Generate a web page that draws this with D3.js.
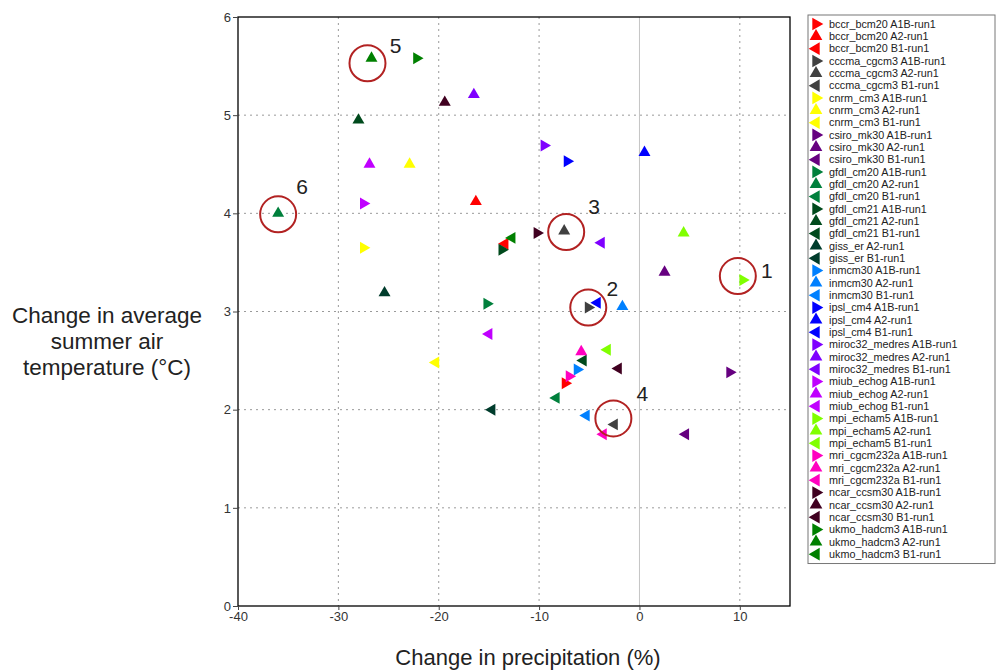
<!DOCTYPE html>
<html>
<head>
<meta charset="utf-8">
<script src="https://cdn.jsdelivr.net/npm/d3@7"></script>
<style>
  body { margin: 0; background: #fff; }
  svg { font-family: "Liberation Sans", Arial, sans-serif; }
</style>
</head>
<body>
<div id="chart"></div>
<script>
// models, in legend order, and their colours
var models = ["bccr_bcm20", "cccma_cgcm3", "cnrm_cm3", "csiro_mk30", "gfdl_cm20", "gfdl_cm21",
  "giss_er", "inmcm30", "ipsl_cm4", "miroc32_medres", "miub_echog", "mpi_echam5",
  "mri_cgcm232a", "ncar_ccsm30", "ukmo_hadcm3"];
var modelColors = ["#ff0000", "#404040", "#ffff00", "#660080", "#00803c", "#004a1c",
  "#003c2c", "#0080ff", "#0000ff", "#7f00ff", "#c000ff", "#80ff00",
  "#ff00c0", "#400020", "#008000"];
var scenarios = ["A1B", "A2", "B1"];

// change in precipitation (%) per model, one array per scenario (null = no run)
var precipA1B = [-7.4, -5.1, -27.5, 9.0, -15.2, -13.7, null, -6.2, -7.2, -9.5, -27.5, 10.3, -7.0, -10.2, -22.2];
var precipA2  = [-16.3, -7.5, -22.9, 2.5, -36.0, -28.0, -25.4, -1.7, 0.5, -16.5, -26.9, 4.4, -5.8, -19.4, -26.7];
var precipB1  = [-13.4, -2.5, -20.3, 4.6, -8.3, -5.6, -14.7, -5.3, -4.2, -3.8, -15.0, -3.2, -3.6, -2.1, -12.7];
// change in summer air temperature (°C)
var tempA1B = [2.27, 3.04, 3.65, 2.38, 3.08, 3.63, null, 2.41, 4.53, 4.69, 4.10, 3.32, 2.34, 3.80, 5.58];
var tempA2  = [4.12, 3.82, 4.50, 3.40, 4.00, 4.95, 3.19, 3.05, 4.62, 5.21, 4.50, 3.80, 2.59, 5.13, 5.58];
var tempB1  = [3.69, 1.85, 2.48, 1.75, 2.12, 2.50, 2.00, 1.94, 3.09, 3.70, 2.77, 2.61, 1.75, 2.42, 3.75];

// circled runs: label, model, scenario
var callouts = [
  ["1", "mpi_echam5", "A1B"],
  ["2", "cccma_cgcm3", "A1B"],
  ["3", "cccma_cgcm3", "A2"],
  ["4", "cccma_cgcm3", "B1"],
  ["5", "ukmo_hadcm3", "A2"],
  ["6", "gfdl_cm20", "A2"]
];
var xTicks = [-40, -30, -20, -10, 0, 10];
var yTicks = [0, 1, 2, 3, 4, 5, 6];

var precip = { A1B: precipA1B, A2: precipA2, B1: precipB1 };
var temp = { A1B: tempA1B, A2: tempA2, B1: tempB1 };

var points = [];
models.forEach(function(m, i) {
  scenarios.forEach(function(s) {
    if (precip[s][i] == null) return;
    points.push({ model: m, scen: s, x: precip[s][i], y: temp[s][i], color: modelColors[i] });
  });
});

var W = 1000, H = 671;
var svg = d3.select("#chart").append("svg").attr("width", W).attr("height", H);

var x = d3.scaleLinear().domain([-40, 15]).range([238, 790]);
var y = d3.scaleLinear().domain([0, 6]).range([606, 17]);

// grid
svg.append("g").selectAll("line")
    .data(xTicks.filter(function(d) { return d !== -40 && d !== 0; })).enter()
  .append("line")
    .attr("x1", x).attr("x2", x).attr("y1", y(6)).attr("y2", y(0))
    .attr("stroke", "#9a9a9a").attr("stroke-dasharray", "2,4");
svg.append("g").selectAll("line")
    .data(yTicks.filter(function(d) { return d > 0 && d < 6; })).enter()
  .append("line")
    .attr("x1", x(-40)).attr("x2", x(15)).attr("y1", y).attr("y2", y)
    .attr("stroke", "#9a9a9a").attr("stroke-dasharray", "2,4");
svg.append("line")
    .attr("x1", x(0)).attr("x2", x(0)).attr("y1", y(6)).attr("y2", y(0))
    .attr("stroke", "#c4c4c4").attr("stroke-width", 1);

// frame
svg.append("rect")
    .attr("x", x(-40)).attr("y", y(6))
    .attr("width", x(15) - x(-40)).attr("height", y(0) - y(6))
    .attr("fill", "none").attr("stroke", "#000").attr("stroke-width", 1.3);

// axes (plain hyphen minus, integer labels)
var fmt = function(d) { return String(d); };
var xAxis = svg.append("g").attr("transform", "translate(0," + y(0) + ")")
    .call(d3.axisBottom(x).tickValues(xTicks).tickFormat(fmt).tickSize(4).tickPadding(2));
var yAxis = svg.append("g").attr("transform", "translate(" + x(-40) + ",0)")
    .call(d3.axisLeft(y).tickValues(yTicks).tickFormat(fmt).tickSize(5).tickPadding(2));
[xAxis, yAxis].forEach(function(a) {
  a.select(".domain").remove();
  a.selectAll("text").attr("font-size", 13).attr("fill", "#333")
    .attr("font-family", "'Liberation Sans', Arial, sans-serif");
  a.selectAll(".tick line").attr("stroke", "#444");
});

// markers
var tri = d3.symbol().type(d3.symbolTriangle).size(62);
var rot = { A1B: 90, A2: 0, B1: -90 };
svg.append("g").selectAll("path")
    .data(points).enter()
  .append("path")
    .attr("d", tri)
    .attr("transform", function(d) {
      return "translate(" + x(d.x) + "," + y(d.y) + ") rotate(" + rot[d.scen] + ")";
    })
    .attr("fill", function(d) { return d.color; });

// callouts
function findPoint(c) {
  return points.filter(function(p) { return p.model === c[1] && p.scen === c[2]; })[0];
}
var labelOffset = { "1": [24, -9], "2": [24, -19], "3": [30, -24], "4": [28, -31], "5": [24, -13], "6": [24, -27] };
var circleOffset = { "1": [-5, -4], "2": [0, 0], "3": [2, 1], "4": [-1, -6], "5": [-4, 5], "6": [0, 1] };
var cg = svg.append("g").selectAll("g").data(callouts).enter().append("g");
cg.append("circle")
    .attr("cx", function(c) { return x(findPoint(c).x) + circleOffset[c[0]][0]; })
    .attr("cy", function(c) { return y(findPoint(c).y) + circleOffset[c[0]][1]; })
    .attr("r", 18)
    .attr("fill", "none").attr("stroke", "#b22222").attr("stroke-width", 2);
cg.append("text")
    .attr("x", function(c) { return x(findPoint(c).x) + labelOffset[c[0]][0]; })
    .attr("y", function(c) { return y(findPoint(c).y) + labelOffset[c[0]][1]; })
    .attr("text-anchor", "middle").attr("dy", "0.35em")
    .attr("font-size", 21).attr("fill", "#222")
    .text(function(c) { return c[0]; });

// axis titles
svg.append("text")
    .attr("x", 528).attr("y", 665)
    .attr("text-anchor", "middle").attr("font-size", 22).attr("fill", "#222")
    .text("Change in precipitation (%)");
var yTitle = svg.append("text")
    .attr("text-anchor", "middle").attr("font-size", 22.5).attr("fill", "#222");
["Change in average", "summer air", "temperature (°C)"].forEach(function(t, i) {
  yTitle.append("tspan").attr("x", 107).attr("y", 323 + i * 26).text(t);
});

// legend
var legX = 808, legY = 15, rowH = 12.33;
svg.append("rect")
    .attr("x", legX).attr("y", legY)
    .attr("width", 187).attr("height", points.length * rowH + 6)
    .attr("fill", "#fff").attr("stroke", "#777").attr("stroke-width", 1);
var leg = svg.append("g").selectAll("g")
    .data(points).enter()
  .append("g")
    .attr("transform", function(d, i) { return "translate(" + (legX + 8) + "," + (legY + 9 + i * rowH) + ")"; });
leg.append("path")
    .attr("d", d3.symbol().type(d3.symbolTriangle).size(70))
    .attr("transform", function(d) { return "rotate(" + rot[d.scen] + ")"; })
    .attr("fill", function(d) { return d.color; });
leg.append("text")
    .attr("x", 13).attr("dy", "0.35em")
    .attr("font-size", 10.8).attr("fill", "#222")
    .text(function(d) { return d.model + " " + d.scen + "-run1"; });
</script>
</body>
</html>
